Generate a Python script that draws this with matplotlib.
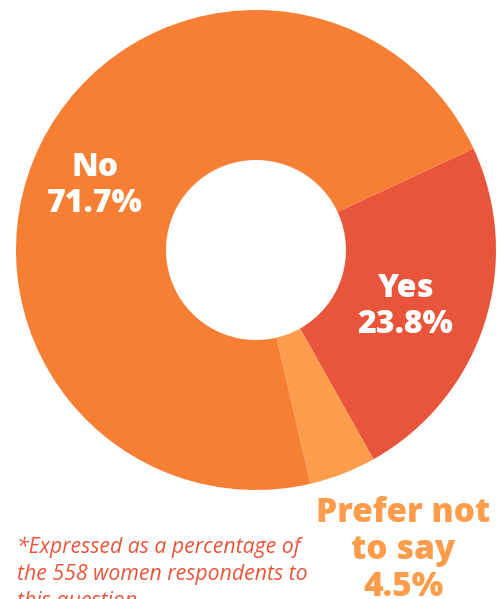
import matplotlib
matplotlib.use('Agg')
import matplotlib.pyplot as plt

W, H = 504, 599

labels = ['Yes', 'Prefer not\nto say', 'No']
shares = [23.8, 4.5, 71.7]
colors = ['#E8553A', '#FD9D4C', '#F77F33']
footnote = '*Expressed as a percentage of\nthe 558 women respondents to\nthis question'

plt.rcParams['font.family'] = ['Open Sans', 'DejaVu Sans']

fig = plt.figure(figsize=(W / 100, H / 100), dpi=100)
ax = fig.add_axes([0, 0, 1, 1])

# donut in pixel units, y measured from the bottom
cx, cy, r_out, r_in = 256, H - 250, 240, 90
ax.pie(shares, colors=colors, startangle=25.0, counterclock=False,
       center=(cx, cy), radius=r_out, frame=True,
       wedgeprops=dict(width=r_out - r_in, linewidth=0))
ax.set_xlim(0, W)
ax.set_ylim(0, H)
ax.set_aspect('equal')
ax.axis('off')

# in-ring labels
ax.text(95, H - 186, f'{labels[2]}\n{shares[2]}%', color='white', fontsize=23,
        fontweight=800, ha='center', va='center', linespacing=1.2)
ax.text(405, H - 307, f'{labels[0]}\n{shares[0]}%', color='white', fontsize=23,
        fontweight=800, ha='center', va='center', linespacing=1.2)
# small slice labelled outside the ring
ax.text(403, H - 550, f'{labels[1]}\n{shares[1]}%', color=colors[1], fontsize=24,
        fontweight=800, ha='center', va='center', linespacing=1.12)

ax.text(17, H - 537, footnote, color='#E8553A', fontsize=15.3, style='italic',
        ha='left', va='top', linespacing=1.35)

fig.savefig('out.png', dpi=100)
